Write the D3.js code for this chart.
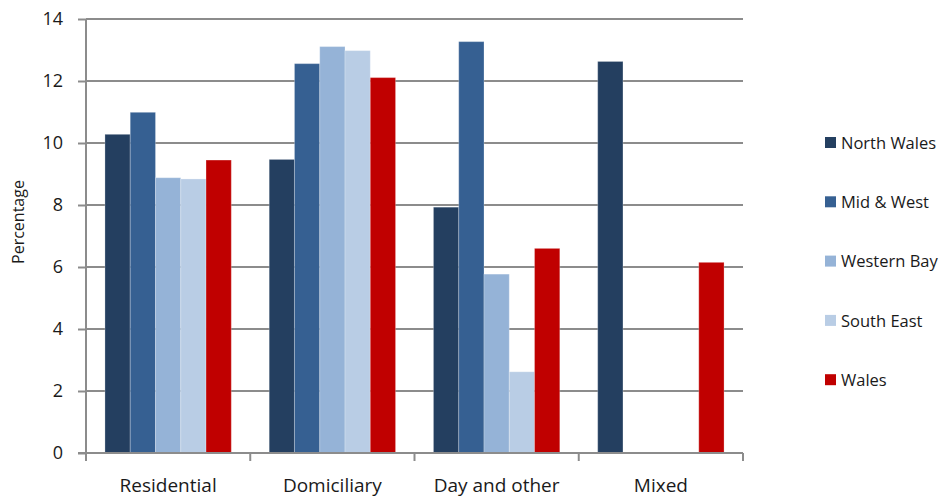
<!DOCTYPE html>
<html><head><meta charset="utf-8">
<script src="https://cdn.jsdelivr.net/npm/d3@7"></script>
<style>body{margin:0;background:#fff;} text{font-family:"Open Sans","Noto Sans",sans-serif;fill:#1a1a1a;}</style>
</head><body><svg id="c" width="941" height="497"></svg>
<script>
const categories = ["Residential","Domiciliary","Day and other","Mixed"];
const seriesNames = ["North Wales","Mid & West","Western Bay","South East","Wales"];
const seriesColors = ["#243F60","#366092","#95B3D7","#B9CDE5","#C00000"];
const northWales = [10.28, 9.47, 7.93, 12.63];
const midWest    = [10.99, 12.56, 13.27, 0];
const westernBay = [8.88, 13.11, 5.77, 0];
const southEast  = [8.84, 12.98, 2.62, 0];
const wales      = [9.45, 12.11, 6.60, 6.15];
const yTicks = [0,2,4,6,8,10,12,14];
const values = [northWales, midWest, westernBay, southEast, wales];

const svg = d3.select("#c");
const L = 86, R = 743, T = 19, B = 453;
const x0 = d3.scaleBand().domain(categories).range([L, R]).paddingInner(0).paddingOuter(0);
const x1 = d3.scaleBand().domain(seriesNames).range([0, x0.bandwidth()]).paddingOuter(0.75).paddingInner(0);
const y = d3.scaleLinear().domain([0, 14]).range([B, T]);

// gridlines
svg.append("g").selectAll("line").data(yTicks.filter(d=>d>0)).join("line")
  .attr("x1", L).attr("x2", R).attr("y1", d=>y(d)).attr("y2", d=>y(d))
  .attr("stroke", "#8c8c8c").attr("stroke-width", 2);

// bars
const g = svg.append("g");
categories.forEach((c, ci) => {
  seriesNames.forEach((s, si) => {
    const v = values[si][ci];
    if (!v) return;
    g.append("rect")
      .attr("x", x0(c) + x1(s)).attr("width", x1.bandwidth())
      .attr("y", y(v)).attr("height", y(0) - y(v))
      .attr("fill", seriesColors[si])
      .attr("stroke", "rgba(255,255,255,0.25)").attr("stroke-width", 1);
  });
});

// y axis
const ya = svg.append("g").attr("transform", `translate(${L},0)`)
  .call(d3.axisLeft(y).tickValues(yTicks).tickSize(8).tickPadding(15).tickFormat(d3.format("d")));
ya.select(".domain").attr("stroke", "#8c8c8c").attr("stroke-width", 2).attr("d", `M0,${T}V${B}`);
ya.selectAll(".tick line").attr("stroke", "#8c8c8c").attr("stroke-width", 2);
ya.selectAll(".tick text").style("font-size", "18px").attr("fill", "#1a1a1a");

// x axis
const xa = svg.append("g").attr("transform", `translate(0,${B})`);
xa.append("line").attr("x1", L - 8).attr("x2", R).attr("y1", 0).attr("y2", 0)
  .attr("stroke", "#8c8c8c").attr("stroke-width", 2);
const bounds = categories.map(c => x0(c)).concat([R]);
xa.selectAll("line.t").data(bounds).join("line").attr("class","t")
  .attr("x1", d=>d).attr("x2", d=>d).attr("y1", 0).attr("y2", 8)
  .attr("stroke", "#8c8c8c").attr("stroke-width", 2);
xa.selectAll("text").data(categories).join("text")
  .attr("x", d => x0(d) + x0.bandwidth()/2).attr("y", 39)
  .attr("text-anchor", "middle").style("font-size", "19px").text(d=>d);

// y title
svg.append("text").attr("transform", "translate(24,222) rotate(-90)")
  .attr("text-anchor", "middle").style("font-size", "16px").text("Percentage");

// legend
const lg = svg.append("g");
seriesNames.forEach((s, i) => {
  const cy = 143 + i * 59.3;
  lg.append("rect").attr("x", 825).attr("y", cy - 6).attr("width", 11).attr("height", 11).attr("fill", seriesColors[i]);
  lg.append("text").attr("x", 841).attr("y", cy).attr("dy", "0.35em").style("font-size", "16.5px").text(s);
});
</script></body></html>
